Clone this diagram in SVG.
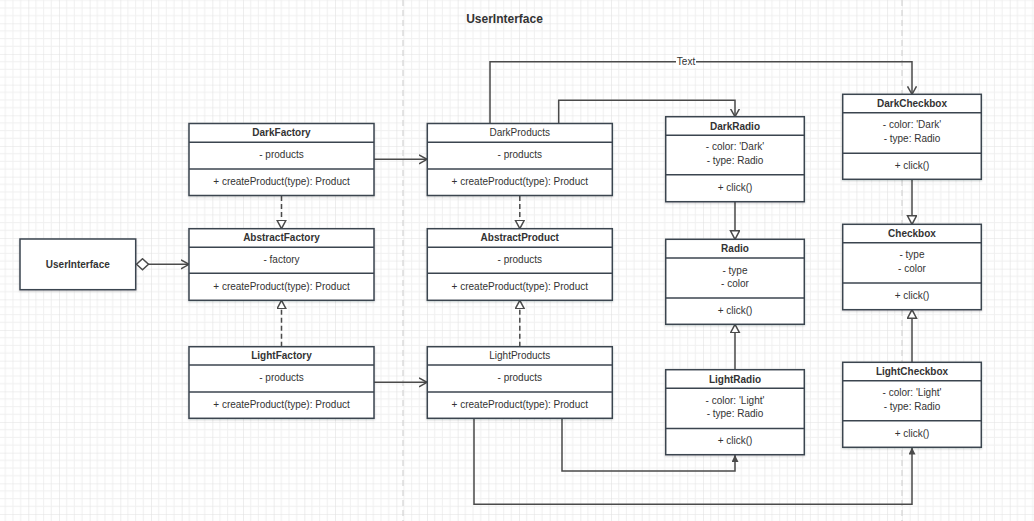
<svg xmlns="http://www.w3.org/2000/svg" width="1034" height="521" viewBox="0 0 1034 521">
<style>
.box{fill:#fff;stroke:#3b444f;stroke-width:1.5;filter:url(#sh)}
.div{stroke:#3b444f;stroke-width:1.5}
.t{font-family:"Liberation Sans",Arial,sans-serif;font-size:10px;fill:#333;text-anchor:middle}
.b{font-weight:bold}
.c{fill:none;stroke:#4a4a4a;stroke-width:1.5}
.d{stroke-dasharray:5,3}
.sep{stroke:#d4d4d4;stroke-width:1.2;stroke-dasharray:6,4}
</style>
<defs>
<pattern id="grid" width="30.67" height="30.67" patternUnits="userSpaceOnUse" x="28.3" y="23.3">
<path d="M7.67,0V30.67M15.33,0V30.67M23,0V30.67M0,7.67H30.67M0,15.33H30.67M0,23H30.67" stroke="#f0f0f0" stroke-width="1"/>
<path d="M0,0V30.67M0,0H30.67" stroke="#e2e2e2" stroke-width="1.2"/>
</pattern>
<filter id="sh" x="-10%" y="-10%" width="120%" height="130%">
<feDropShadow dx="0" dy="1" stdDeviation="1" flood-color="#000" flood-opacity="0.18"/>
</filter>
<marker id="open" markerUnits="userSpaceOnUse" markerWidth="12" markerHeight="12" refX="8" refY="5" orient="auto">
<path d="M0,0.5 L8,5 L0,9.5" fill="none" stroke="#4a4a4a" stroke-width="1.5"/>
</marker>
<marker id="tri" markerUnits="userSpaceOnUse" markerWidth="12" markerHeight="12" refX="9" refY="5" orient="auto">
<path d="M0.5,0.5 L9,5 L0.5,9.5 Z" fill="#fff" stroke="#4a4a4a" stroke-width="1.5"/>
</marker>
<marker id="fill" markerUnits="userSpaceOnUse" markerWidth="10" markerHeight="10" refX="7" refY="3.5" orient="auto">
<path d="M0,0 L7,3.5 L0,7 Z" fill="#4a4a4a"/>
</marker>
<marker id="dia" markerUnits="userSpaceOnUse" markerWidth="14" markerHeight="14" refX="0.5" refY="6" orient="auto">
<path d="M0.5,6 L6.5,0.5 L12.5,6 L6.5,11.5 Z" fill="#fff" stroke="#4a4a4a" stroke-width="1.5"/>
</marker>
</defs>
<rect width="1034" height="521" fill="#fff"/>
<rect width="1034" height="521" fill="url(#grid)"/>
<line class="sep" x1="403" y1="0" x2="403" y2="521"/>
<line class="sep" x1="902" y1="0" x2="902" y2="521"/>
<text class="t b" x="504.5" y="22.5" style="font-size:12px">UserInterface</text>

<g id="connectors">
<path class="c" d="M136.5,264.3 H189" marker-start="url(#dia)" marker-end="url(#open)"/>
<path class="c" d="M374,159.3 H427" marker-end="url(#open)"/>
<path class="c" d="M374,382.3 H427" marker-end="url(#open)"/>
<path class="c d" d="M281.5,196 V228.7" marker-end="url(#tri)"/>
<path class="c d" d="M281.5,346.7 V300.3" marker-end="url(#tri)"/>
<path class="c d" d="M519.8,196 V228.7" marker-end="url(#tri)"/>
<path class="c d" d="M519.8,346.7 V300.3" marker-end="url(#tri)"/>
<path class="c" d="M558.7,123.7 V100.3 H735 V116.7" marker-end="url(#open)"/>
<path class="c" d="M490,123.7 V61.7 H912 V94.3" marker-end="url(#open)"/>
<rect x="676" y="55" width="20" height="13" fill="#fff"/>
<text class="t" x="686" y="65.2">Text</text>
<path class="c" d="M735,201.7 V239.3" marker-end="url(#tri)"/>
<path class="c" d="M735,369.7 V324.3" marker-end="url(#tri)"/>
<path class="c" d="M912,179.3 V224.3" marker-end="url(#tri)"/>
<path class="c" d="M912,362.3 V309.7" marker-end="url(#tri)"/>
<path class="c" d="M562,418.3 V471 H735 V455" marker-end="url(#fill)"/>
<path class="c" d="M474,418.3 V504.3 H912 V447.5" marker-end="url(#fill)"/>
</g>

<g id="UserInterface">
<rect class="box" x="20" y="239" width="115.7" height="50.7"/>
<text class="t b" x="77.8" y="267.8">UserInterface</text>
</g>

<g id="DarkFactory">
<rect class="box" x="189" y="123.5" width="185" height="72"/>
<line class="div" x1="189" y1="142.3" x2="374" y2="142.3"/>
<line class="div" x1="189" y1="169" x2="374" y2="169"/>
<text class="t b" x="281.5" y="135.8">DarkFactory</text>
<text class="t" x="281.5" y="158">- products</text>
<text class="t" x="281.5" y="184.5">+ createProduct(type): Product</text>
</g>

<g id="AbstractFactory">
<rect class="box" x="189" y="228.7" width="185" height="71.6"/>
<line class="div" x1="189" y1="247.3" x2="374" y2="247.3"/>
<line class="div" x1="189" y1="273.3" x2="374" y2="273.3"/>
<text class="t b" x="281.5" y="240.5">AbstractFactory</text>
<text class="t" x="281.5" y="262.8">- factory</text>
<text class="t" x="281.5" y="289.5">+ createProduct(type): Product</text>
</g>

<g id="LightFactory">
<rect class="box" x="189" y="346.7" width="185" height="71.6"/>
<line class="div" x1="189" y1="365" x2="374" y2="365"/>
<line class="div" x1="189" y1="392" x2="374" y2="392"/>
<text class="t b" x="281.5" y="358.5">LightFactory</text>
<text class="t" x="281.5" y="381.2">- products</text>
<text class="t" x="281.5" y="407.7">+ createProduct(type): Product</text>
</g>

<g id="DarkProducts">
<rect class="box" x="427.3" y="123.5" width="185" height="72"/>
<line class="div" x1="427.3" y1="142.3" x2="612.3" y2="142.3"/>
<line class="div" x1="427.3" y1="169" x2="612.3" y2="169"/>
<text class="t" x="519.8" y="135.8">DarkProducts</text>
<text class="t" x="519.8" y="158">- products</text>
<text class="t" x="519.8" y="184.5">+ createProduct(type): Product</text>
</g>

<g id="AbstractProduct">
<rect class="box" x="427.3" y="228.7" width="185" height="71.6"/>
<line class="div" x1="427.3" y1="247.3" x2="612.3" y2="247.3"/>
<line class="div" x1="427.3" y1="273.3" x2="612.3" y2="273.3"/>
<text class="t b" x="519.8" y="240.5">AbstractProduct</text>
<text class="t" x="519.8" y="262.8">- products</text>
<text class="t" x="519.8" y="289.5">+ createProduct(type): Product</text>
</g>

<g id="LightProducts">
<rect class="box" x="427.3" y="346.7" width="185" height="71.6"/>
<line class="div" x1="427.3" y1="365" x2="612.3" y2="365"/>
<line class="div" x1="427.3" y1="392" x2="612.3" y2="392"/>
<text class="t" x="519.8" y="358.5">LightProducts</text>
<text class="t" x="519.8" y="381.2">- products</text>
<text class="t" x="519.8" y="407.7">+ createProduct(type): Product</text>
</g>

<g id="DarkRadio">
<rect class="box" x="665.7" y="116.7" width="138.6" height="85"/>
<line class="div" x1="665.7" y1="135.2" x2="804.3" y2="135.2"/>
<line class="div" x1="665.7" y1="174.8" x2="804.3" y2="174.8"/>
<text class="t b" x="735" y="129.5">DarkRadio</text>
<text class="t" x="735" y="150.2">- color: 'Dark'</text>
<text class="t" x="735" y="163.8">- type: Radio</text>
<text class="t" x="735" y="191.2">+ click()</text>
</g>

<g id="Radio">
<rect class="box" x="665.7" y="239.3" width="138.6" height="85"/>
<line class="div" x1="665.7" y1="258" x2="804.3" y2="258"/>
<line class="div" x1="665.7" y1="298" x2="804.3" y2="298"/>
<text class="t b" x="735" y="252.1">Radio</text>
<text class="t" x="735" y="273.5">- type</text>
<text class="t" x="735" y="286.9">- color</text>
<text class="t" x="735" y="313.6">+ click()</text>
</g>

<g id="LightRadio">
<rect class="box" x="665.7" y="369.7" width="138.6" height="85"/>
<line class="div" x1="665.7" y1="388.2" x2="804.3" y2="388.2"/>
<line class="div" x1="665.7" y1="428.5" x2="804.3" y2="428.5"/>
<text class="t b" x="735" y="382.5">LightRadio</text>
<text class="t" x="735" y="403.5">- color: 'Light'</text>
<text class="t" x="735" y="417">- type: Radio</text>
<text class="t" x="735" y="444.2">+ click()</text>
</g>

<g id="DarkCheckbox">
<rect class="box" x="842.7" y="94.3" width="138.6" height="85"/>
<line class="div" x1="842.7" y1="112.8" x2="981.3" y2="112.8"/>
<line class="div" x1="842.7" y1="153.3" x2="981.3" y2="153.3"/>
<text class="t b" x="912" y="107.1">DarkCheckbox</text>
<text class="t" x="912" y="128.3">- color: 'Dark'</text>
<text class="t" x="912" y="141.8">- type: Radio</text>
<text class="t" x="912" y="168.8">+ click()</text>
</g>

<g id="Checkbox">
<rect class="box" x="842.7" y="224.3" width="138.6" height="85.4"/>
<line class="div" x1="842.7" y1="242.8" x2="981.3" y2="242.8"/>
<line class="div" x1="842.7" y1="283" x2="981.3" y2="283"/>
<text class="t b" x="912" y="236.8">Checkbox</text>
<text class="t" x="912" y="258.3">- type</text>
<text class="t" x="912" y="271.8">- color</text>
<text class="t" x="912" y="298.8">+ click()</text>
</g>

<g id="LightCheckbox">
<rect class="box" x="842.7" y="362.3" width="138.6" height="85"/>
<line class="div" x1="842.7" y1="380.8" x2="981.3" y2="380.8"/>
<line class="div" x1="842.7" y1="420.7" x2="981.3" y2="420.7"/>
<text class="t b" x="912" y="374.8">LightCheckbox</text>
<text class="t" x="912" y="396.3">- color: 'Light'</text>
<text class="t" x="912" y="409.8">- type: Radio</text>
<text class="t" x="912" y="436.5">+ click()</text>
</g>
</svg>
